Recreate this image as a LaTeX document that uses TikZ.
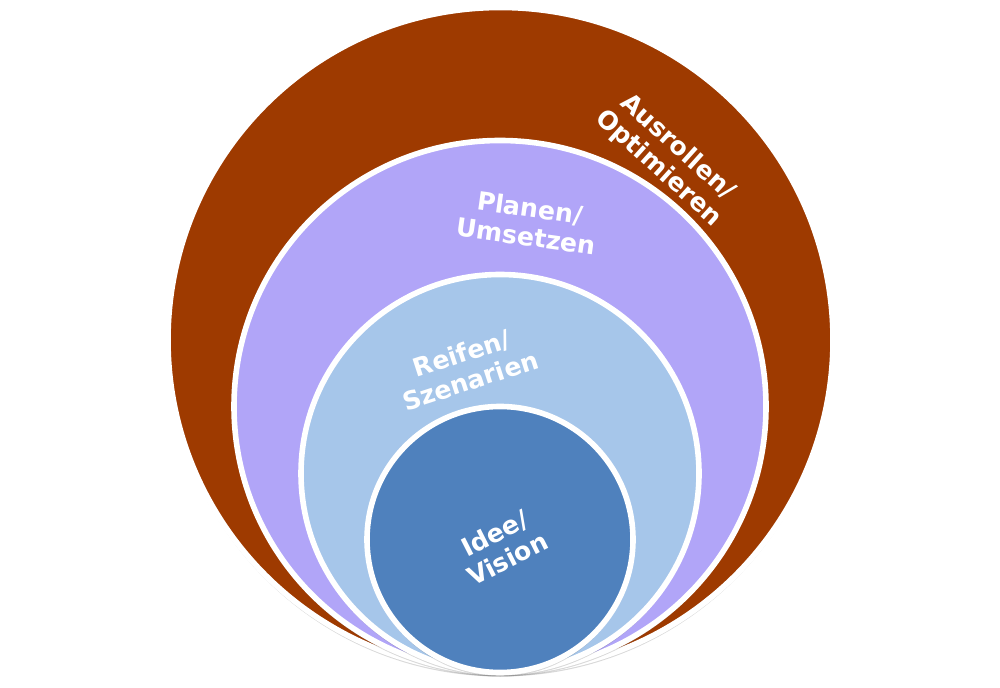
\documentclass[tikz,border=0pt]{standalone}
\usepackage{fontspec}
\setmainfont{DejaVu Sans}
\usetikzlibrary{shadows}
\definecolor{cbrown}{RGB}{158,58,0}
\definecolor{cpurple}{RGB}{177,165,248}
\definecolor{clight}{RGB}{166,198,234}
\definecolor{cdark}{RGB}{79,129,189}
\tikzset{
  ring/.style={circle, inner sep=0pt, draw=white, line width=2.8pt,
    drop shadow={shadow xshift=0pt, shadow yshift=-2pt, opacity=0.25, fill=black!60}},
  lbl/.style={text=white, align=center, font=\fontsize{12.6}{14.2}\selectfont\bfseries, inner sep=0pt}
}
\begin{document}
\begin{tikzpicture}[x=0.5pt,y=-0.5pt]
\useasboundingbox[fill=white] (0,0) rectangle (1000,688);
\node[ring, fill=cbrown, minimum size=332.5pt] (outer) at (500.5,340) {};
\node[ring, fill=cpurple, minimum size=266pt] (plan) at (500,406.5) {};
\node[ring, fill=clight, minimum size=199pt] (reif) at (500,473.5) {};
\node[ring, fill=cdark, minimum size=133pt] (idee) at (500,539.5) {};
\node[lbl, rotate=-42] (tA) at (668,158) {Ausrollen/\\Optimieren};
\node[lbl, rotate=-8] (tP) at (528,222) {Planen/\\Umsetzen};
\node[lbl, rotate=18] (tR) at (466,367) {Reifen/\\Szenarien};
\node[lbl, rotate=27] (tI) at (501,546) {Idee/\\Vision};
\end{tikzpicture}
\end{document}
